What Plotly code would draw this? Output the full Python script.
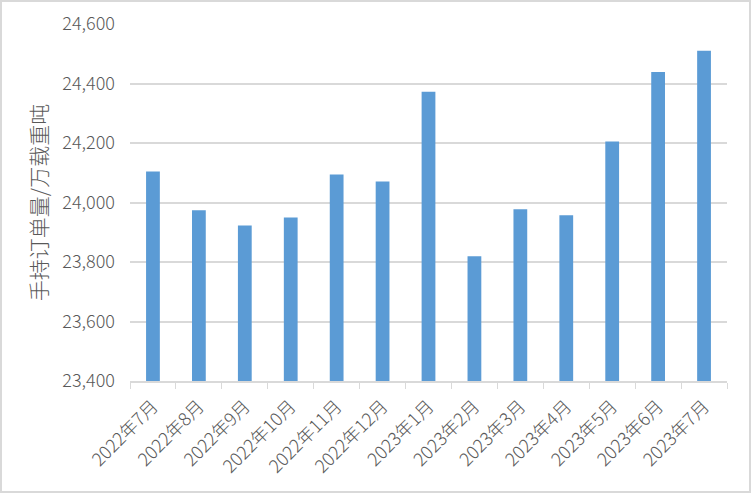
import plotly.graph_objects as go

categories = ["2022年7月", "2022年8月", "2022年9月", "2022年10月", "2022年11月", "2022年12月",
              "2023年1月", "2023年2月", "2023年3月", "2023年4月", "2023年5月", "2023年6月", "2023年7月"]
values = [24104, 23974, 23923, 23950, 24094, 24071, 24372, 23819, 23977, 23957, 24205, 24439, 24510]
y_ticks = [23400, 23600, 23800, 24000, 24200, 24400, 24600]
y_title = "手持订单量/万载重吨"

W, H = 751, 493
ml, mr, mt, mb = 130, 24, 24, 112
pw, ph = W - ml - mr, H - mt - mb

font_family = "Noto Sans CJK SC, Noto Sans, sans-serif"
gray = "#595959"

fig = go.Figure(go.Bar(x=categories, y=values, marker=dict(color="#5B9BD5", line=dict(width=0))))

fig.update_layout(
    width=W, height=H,
    margin=dict(l=ml, r=mr, t=mt, b=mb, pad=0, autoexpand=False),
    paper_bgcolor="white", plot_bgcolor="white",
    bargap=0.7,
    font=dict(family=font_family, color=gray, size=18, weight=300),
    showlegend=False,
    xaxis=dict(
        type="category", tickangle=-45, tickson="boundaries",
        ticks="outside", ticklen=6, tickcolor="#d9d9d9", tickwidth=1,
        showline=True, linecolor="#d9d9d9", linewidth=1.5,
        showgrid=False, automargin=False, ticklabelstandoff=6,
        tickfont=dict(size=18, color=gray, family=font_family, weight=300),
    ),
    yaxis=dict(
        range=[23400, 24600], tickvals=y_ticks,
        ticktext=[f"{v:,}" for v in y_ticks],
        showgrid=True, gridcolor="#d9d9d9", gridwidth=1.5,
        zeroline=False, showline=False, ticks="", ticklabelstandoff=14,
        automargin=False,
        tickfont=dict(size=18, color=gray, family=font_family, weight=300),
        title=dict(text=y_title, font=dict(size=21, color=gray, family=font_family, weight=300), standoff=8),
    ),
    shapes=[dict(
        type="rect", xref="paper", yref="paper",
        x0=(-ml + 1) / pw, x1=(pw + mr - 1) / pw,
        y0=(-mb + 1) / ph, y1=(ph + mt - 1) / ph,
        line=dict(color="#d9d9d9", width=2), fillcolor="rgba(0,0,0,0)", layer="below",
    )],
)

fig.write_html(
    "out.html",
    config={"displayModeBar": False},
    post_script="document.body.style.margin='0';document.body.style.overflow='hidden';",
)
